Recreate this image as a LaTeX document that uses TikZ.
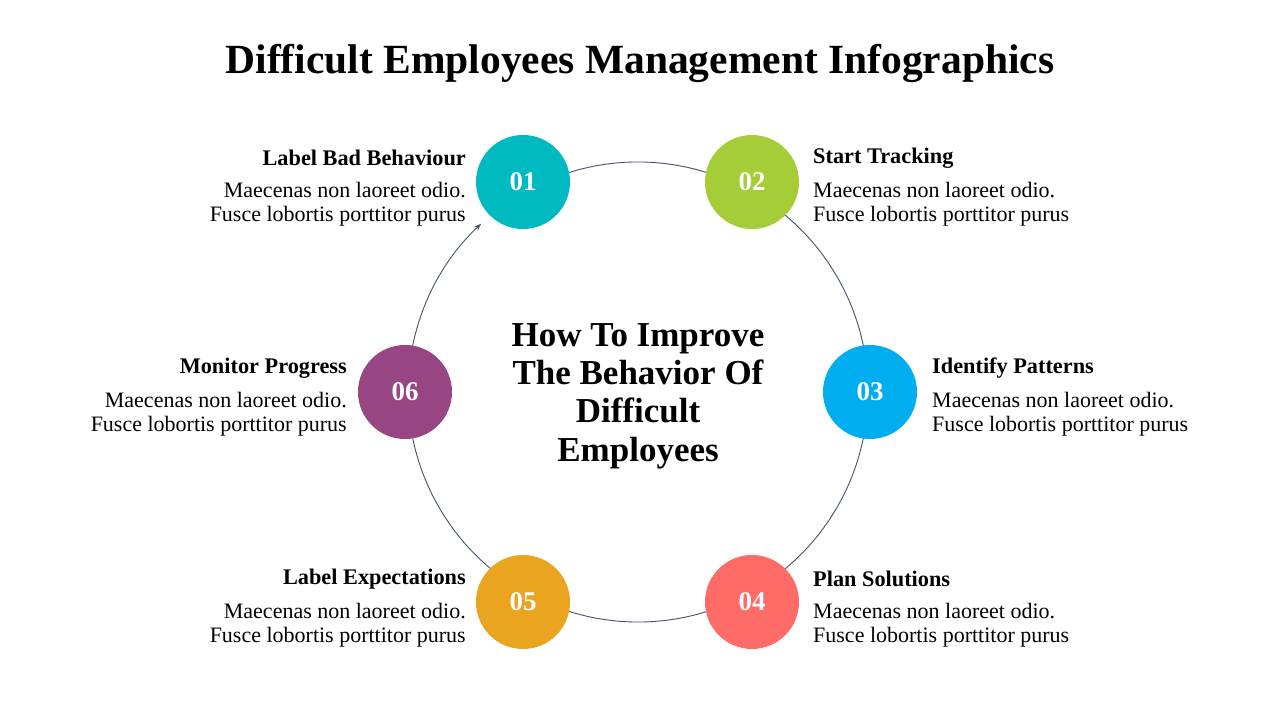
\documentclass[tikz,border=0pt]{standalone}
\usepackage{fontspec}
\setmainfont{Liberation Serif}
\usetikzlibrary{arrows.meta}
\definecolor{ringcol}{HTML}{44546A}
\definecolor{cteal}{HTML}{00BAC2}
\definecolor{cgreen}{HTML}{A5CD38}
\definecolor{cblue}{HTML}{00AEEF}
\definecolor{cred}{HTML}{FF6B67}
\definecolor{corange}{HTML}{EBA41F}
\definecolor{cpurple}{HTML}{974583}
\newcommand{\bodytxt}{Maecenas non laoreet odio.\\Fusce lobortis porttitor purus}

\begin{document}
\begin{tikzpicture}[x=1pt, y=1pt,
    dot/.style = {circle, minimum size=94pt, inner sep=0pt, text=white,
                  font=\fontsize{27}{30}\selectfont\bfseries},
    head/.style = {inner sep=0pt, font=\fontsize{22.3}{24}\selectfont\bfseries},
    body/.style = {inner sep=0pt, font=\fontsize{22}{24}\selectfont},
    ring/.style = {draw=ringcol, line width=0.9pt}]

      \fill[white] (0,0) rectangle (1280,720);

      \node (title) at (640,657) {\fontsize{41.5}{48}\selectfont\bfseries Difficult Employees Management Infographics};

      % ring
      \coordinate (c) at (638,328);
      \draw[ring] (c) ++(118:230) arc[start angle=118, end angle=-180, radius=230];
      \draw[ring, -{Stealth[length=7pt, width=5pt]}] (c) ++(180:230) arc[start angle=180, end angle=133, radius=230];

      \node[align=center, font=\fontsize{35}{38.3}\selectfont\bfseries] (mid) at (638,324)
        {How To Improve\\The Behavior Of\\Difficult\\Employees};

      % steps
      \node[dot, fill=cteal]   (s01) at (523,538) {01};
      \node[dot, fill=cgreen]  (s02) at (752,538) {02};
      \node[dot, fill=cblue]   (s03) at (870,328) {03};
      \node[dot, fill=cred]    (s04) at (752,118) {04};
      \node[dot, fill=corange] (s05) at (523,118) {05};
      \node[dot, fill=cpurple] (s06) at (405,328) {06};

      \node[head, anchor=east] (h01) at (466,562) {Label Bad Behaviour};
      \node[body, anchor=north east, align=right] (b01) at (466,538) {\bodytxt};

      \node[head, anchor=west] (h02) at (813,562) {Start Tracking};
      \node[body, anchor=north west, align=left] (b02) at (813,538) {\bodytxt};

      \node[head, anchor=west] (h03) at (932,352) {Identify Patterns};
      \node[body, anchor=north west, align=left] (b03) at (932,328) {\bodytxt};

      \node[head, anchor=west] (h04) at (813,141) {Plan Solutions};
      \node[body, anchor=north west, align=left] (b04) at (813,117) {\bodytxt};

      \node[head, anchor=east] (h05) at (466,141) {Label Expectations};
      \node[body, anchor=north east, align=right] (b05) at (466,117) {\bodytxt};

      \node[head, anchor=east] (h06) at (347,352) {Monitor Progress};
      \node[body, anchor=north east, align=right] (b06) at (347,328) {\bodytxt};
    \end{tikzpicture}
\end{document}
